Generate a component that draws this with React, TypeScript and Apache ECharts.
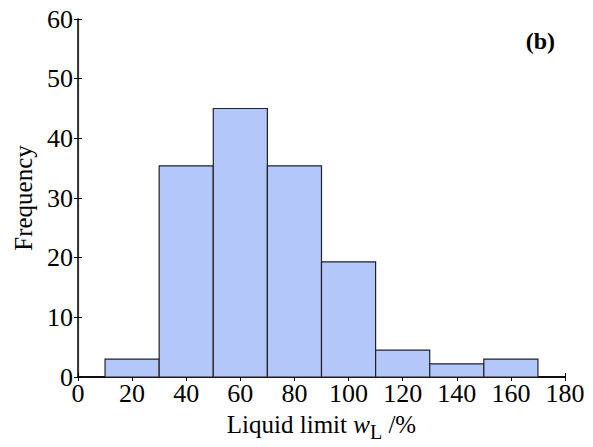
import React, { useEffect, useRef } from "react";
import * as echarts from "echarts";

const binStarts = [10, 30, 50, 70, 90, 110, 130, 150];
const binEnds = [30, 50, 70, 90, 110, 130, 150, 170];
const frequencies = [3, 35.4, 45, 35.4, 19.3, 4.5, 2.2, 3];
const xTicks = [0, 20, 40, 60, 80, 100, 120, 140, 160, 180];
const yTicks = [0, 10, 20, 30, 40, 50, 60];

const FONT = "'Liberation Serif', 'Times New Roman', serif";

export default function App() {
  const ref = useRef<HTMLDivElement>(null);
  useEffect(() => {
    if (!ref.current) return;
    const chart = echarts.init(ref.current, null, { renderer: "svg" });
    const data = binStarts.map((s, i) => [s, binEnds[i], frequencies[i]]);
    const axisLabel = { fontFamily: FONT, fontSize: 26, color: "#000" };
    chart.setOption({
      animation: false,
      backgroundColor: "#fff",
      grid: { left: 78, top: 19, right: 28, bottom: 70, containLabel: false, outerBoundsMode: "none" },
      xAxis: [
        {
          type: "value",
          min: xTicks[0],
          max: xTicks[xTicks.length - 1],
          interval: 20,
          axisLine: { show: true, lineStyle: { color: "#000", width: 1.5 } },
          axisTick: { show: true, inside: true, length: 4, lineStyle: { color: "#000" } },
          axisLabel: { ...axisLabel, margin: 3 },
          splitLine: { show: false },
          name: "{n|Liquid limit }{i|w}{s|L}{n| /%}",
          nameLocation: "middle",
          nameGap: 30,
          nameTextStyle: {
            rich: {
              n: { fontFamily: FONT, fontSize: 25, color: "#000", lineHeight: 26 },
              i: { fontFamily: FONT, fontSize: 25, fontStyle: "italic", color: "#000", lineHeight: 26 },
              s: { fontFamily: FONT, fontSize: 20, color: "#000", padding: [15, 0, 0, 0] },
            },
          },
        },
        {
          type: "value",
          position: "top",
          min: xTicks[0],
          max: xTicks[xTicks.length - 1],
          interval: 20,
          axisLine: { show: true, lineStyle: { color: "#000", width: 1.5 } },
          axisTick: { show: true, inside: true, length: 4, lineStyle: { color: "#000" } },
          axisLabel: { show: false },
          splitLine: { show: false },
        },
      ],
      yAxis: [
        {
          type: "value",
          min: yTicks[0],
          max: yTicks[yTicks.length - 1],
          interval: 10,
          axisLine: { show: true, lineStyle: { color: "#000", width: 1.5 } },
          axisTick: { show: true, inside: true, length: 4, lineStyle: { color: "#000" } },
          axisLabel: { ...axisLabel, margin: 5 },
          splitLine: { show: false },
          name: "Frequency",
          nameLocation: "middle",
          nameGap: 40,
          nameRotate: 90,
          nameTextStyle: { fontFamily: FONT, fontSize: 25, color: "#000" },
        },
        {
          type: "value",
          position: "right",
          min: yTicks[0],
          max: yTicks[yTicks.length - 1],
          interval: 10,
          axisLine: { show: true, lineStyle: { color: "#333", width: 1.2 } },
          axisTick: { show: true, inside: true, length: 4, lineStyle: { color: "#000" } },
          axisLabel: { show: false },
          splitLine: { show: false },
        },
      ],
      series: [
        {
          type: "custom",
          xAxisIndex: 0,
          yAxisIndex: 0,
          data,
          renderItem: (params: any, api: any) => {
            const p0 = api.coord([api.value(0), api.value(2)]);
            const p1 = api.coord([api.value(1), 0]);
            return {
              type: "rect",
              shape: { x: p0[0], y: p0[1], width: p1[0] - p0[0], height: p1[1] - p0[1] },
              style: { fill: "#b3c7fb", stroke: "#222", lineWidth: 1.2 },
            };
          },
        },
      ],
      graphic: [
        {
          type: "text",
          right: 38,
          top: 29,
          style: { text: "(b)", fontFamily: FONT, fontSize: 24, fontWeight: "bold", fill: "#000" },
        },
      ],
    });
    return () => chart.dispose();
  }, []);
  return <div ref={ref} style={{ width: 593, height: 447, position: "absolute", left: 0, top: 0 }} />;
}
